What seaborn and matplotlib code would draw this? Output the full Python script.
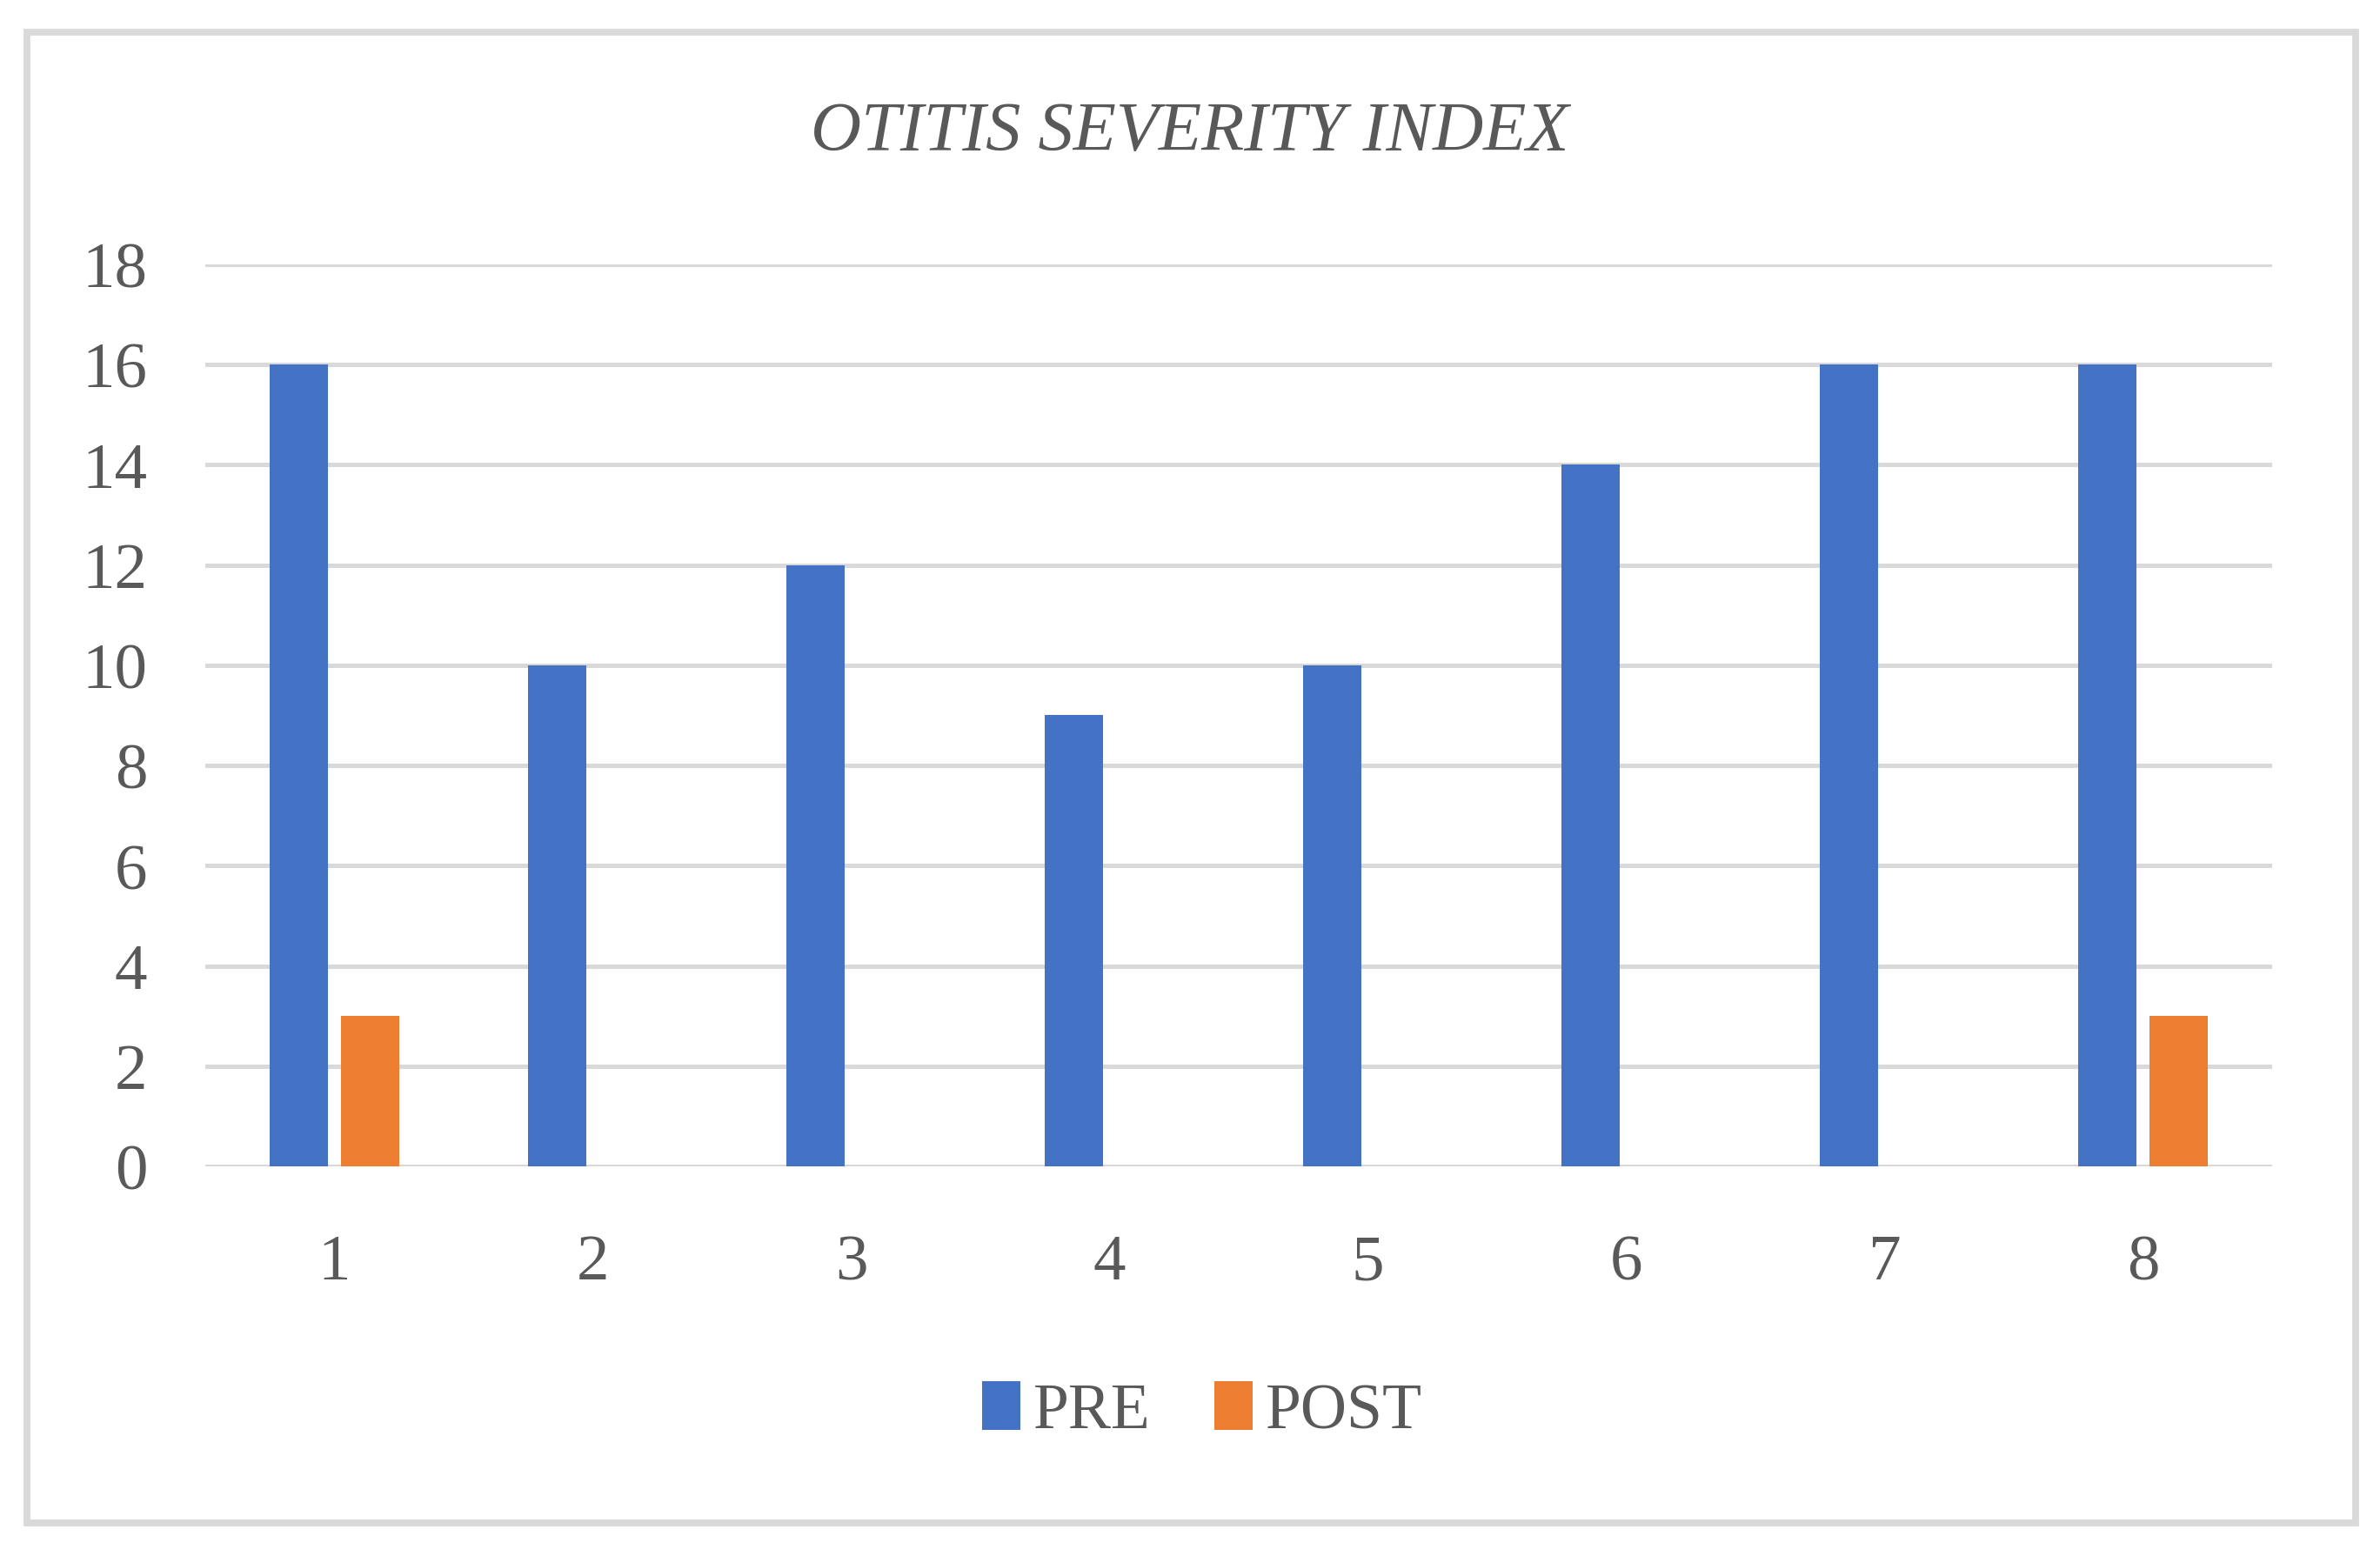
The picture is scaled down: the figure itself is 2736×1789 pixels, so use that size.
import numpy as np
import pandas as pd
import matplotlib
matplotlib.use("Agg")
import matplotlib.pyplot as plt
from matplotlib.patches import Rectangle, Patch
import seaborn as sns

# data
patients = ["1", "2", "3", "4", "5", "6", "7", "8"]
pre_scores = [16, 10, 12, 9, 10, 14, 16, 16]
post_scores = [3, 0, 0, 0, 0, 0, 0, 3]
series_names = ["PRE", "POST"]
series_colors = ["#4472C4", "#ED7D31"]
y_ticks = [0, 2, 4, 6, 8, 10, 12, 14, 16, 18]

df = pd.DataFrame({
    "patient": patients * 2,
    "score": pre_scores + post_scores,
    "phase": [series_names[0]] * len(patients) + [series_names[1]] * len(patients),
})

sns.set_theme(style="white")
plt.rcParams["font.family"] = ["Liberation Serif", "DejaVu Serif"]
text_color = "#595959"
grid_color = "#D9D9D9"

fig = plt.figure(figsize=(13.68, 8.95), dpi=200)
fig.patch.set_facecolor("white")

# outer chart border
fig.patches.append(Rectangle((0.0113, 0.0212), 0.9784, 0.9575, transform=fig.transFigure,
                             fill=False, edgecolor=grid_color, linewidth=2.8))

ax = fig.add_axes([0.0863, 0.2503, 0.8684, 0.5793])
sns.barplot(data=df, x="patient", y="score", hue="phase", order=patients,
            hue_order=series_names, palette=series_colors, width=0.55, gap=0.18,
            saturation=1, linewidth=0, legend=False, ax=ax, zorder=3)

ax.set_ylim(0, 18)
ax.set_xlim(-0.5, len(patients) - 0.5)
ax.set_yticks(y_ticks)
ax.yaxis.grid(True, color=grid_color, linewidth=1.8, zorder=0)
ax.set_axisbelow(True)
for s in ax.spines.values():
    s.set_visible(False)
ax.set_xlabel("")
ax.set_ylabel("")
ax.tick_params(axis="y", length=0, pad=24, labelsize=27, labelcolor=text_color)
ax.tick_params(axis="x", length=0, pad=28, labelsize=27, labelcolor=text_color)

fig.text(0.5, 0.914, "OTITIS SEVERITY INDEX", ha="center", va="center",
         fontsize=29, style="italic", color=text_color)

handles = [Patch(facecolor=c, edgecolor="none") for c in series_colors]
fig.legend(handles, series_names, loc="center", bbox_to_anchor=(0.505, 0.093),
           ncol=2, frameon=False, fontsize=26.5, labelcolor=text_color,
           handlelength=0.6, handleheight=0.8, handletextpad=0.2, columnspacing=1.0)

fig.savefig("out.png", dpi=200, facecolor="white")
